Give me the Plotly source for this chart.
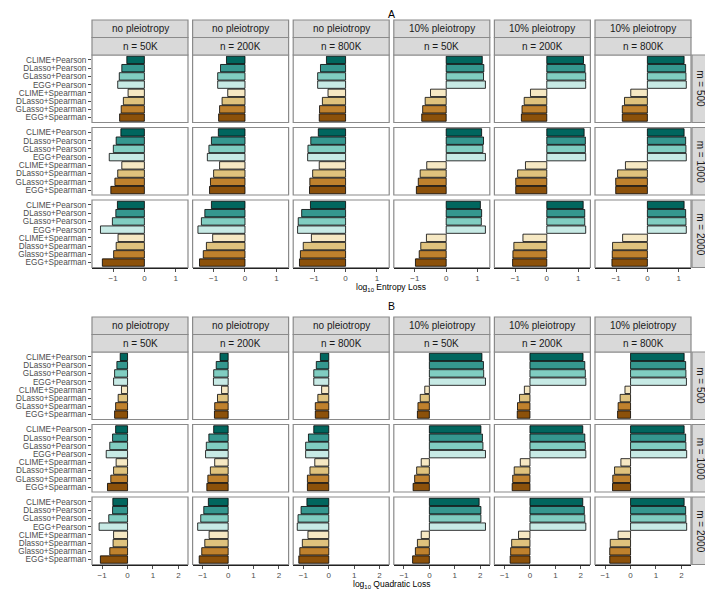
import plotly.graph_objects as go

# the page body adds an 8px margin, so the figure is drawn 8px in and 8px smaller
OFF = 8
W, H = 713 - OFF, 594 - OFF

methods = ["CLIME+Pearson", "DLasso+Pearson", "GLasso+Pearson", "EGG+Pearson",
           "CLIME+Spearman", "DLasso+Spearman", "GLasso+Spearman", "EGG+Spearman"]
# the m = 2000 row is labelled a bit differently in the original
methods_m2000 = ["CLIME+Pearson", "DLasso+Pearson", "GLasso+Pearson", "EGG+Pearson",
                 "CLIME+Spearman", "Dlasso+Spearman", "Glasso+Spearman", "EGG+Spearman"]
colors = ["#01665e", "#35978f", "#80cdc1", "#c7eae5",
          "#f6e8c3", "#dfc27d", "#bf812d", "#8c510a"]

col_pleio = ["no pleiotropy"] * 3 + ["10% pleiotropy"] * 3
col_n = ["n = 50K", "n = 200K", "n = 800K"] * 2
row_m = ["m = 500", "m = 1000", "m = 2000"]

# log10 entropy loss, one list of 8 per column
entropy_m500 = [
    [-0.56, -0.72, -0.80, -0.85, -0.52, -0.67, -0.74, -0.79],
    [-0.59, -0.78, -0.87, -0.87, -0.55, -0.73, -0.81, -0.84],
    [-0.61, -0.80, -0.89, -0.89, -0.56, -0.74, -0.83, -0.84],
    [1.15, 1.20, 1.19, 1.25, -0.50, -0.67, -0.75, -0.78],
    [1.17, 1.22, 1.24, 1.24, -0.52, -0.72, -0.79, -0.81],
    [1.17, 1.22, 1.23, 1.24, -0.53, -0.73, -0.80, -0.80],
]
entropy_m1000 = [
    [-0.75, -0.90, -0.99, -1.12, -0.72, -0.85, -0.94, -1.07],
    [-0.85, -1.07, -1.15, -1.20, -0.81, -1.00, -1.10, -1.13],
    [-0.87, -1.11, -1.20, -1.21, -0.84, -1.05, -1.14, -1.15],
    [1.13, 1.19, 1.17, 1.25, -0.62, -0.83, -0.89, -0.95],
    [1.19, 1.23, 1.23, 1.24, -0.68, -0.93, -0.99, -0.99],
    [1.17, 1.22, 1.23, 1.24, -0.70, -0.95, -1.01, -1.01],
]
entropy_m2000 = [
    [-0.86, -0.91, -1.02, -1.40, -0.84, -0.90, -0.98, -1.34],
    [-1.07, -1.28, -1.39, -1.50, -1.03, -1.23, -1.33, -1.45],
    [-1.12, -1.40, -1.51, -1.53, -1.09, -1.35, -1.44, -1.47],
    [1.09, 1.13, 1.12, 1.25, -0.63, -0.81, -0.86, -0.98],
    [1.16, 1.21, 1.21, 1.24, -0.76, -1.05, -1.08, -1.09],
    [1.17, 1.22, 1.23, 1.24, -0.79, -1.11, -1.12, -1.13],
]

# log10 quadratic loss
quad_m500 = [
    [-0.29, -0.42, -0.51, -0.55, -0.24, -0.37, -0.47, -0.51],
    [-0.32, -0.47, -0.57, -0.58, -0.26, -0.42, -0.53, -0.54],
    [-0.33, -0.49, -0.59, -0.59, -0.28, -0.43, -0.53, -0.53],
    [2.07, 2.13, 2.14, 2.21, -0.18, -0.36, -0.45, -0.47],
    [2.09, 2.16, 2.18, 2.20, -0.22, -0.41, -0.49, -0.50],
    [2.11, 2.17, 2.18, 2.20, -0.22, -0.41, -0.49, -0.51],
]
quad_m1000 = [
    [-0.47, -0.59, -0.70, -0.84, -0.45, -0.55, -0.66, -0.79],
    [-0.57, -0.76, -0.86, -0.89, -0.53, -0.70, -0.80, -0.84],
    [-0.59, -0.80, -0.91, -0.91, -0.55, -0.74, -0.84, -0.84],
    [2.03, 2.09, 2.11, 2.21, -0.32, -0.50, -0.58, -0.64],
    [2.08, 2.16, 2.18, 2.20, -0.38, -0.62, -0.68, -0.70],
    [2.11, 2.17, 2.18, 2.21, -0.38, -0.63, -0.70, -0.71],
]
quad_m2000 = [
    [-0.58, -0.59, -0.74, -1.12, -0.55, -0.57, -0.70, -1.07],
    [-0.78, -0.96, -1.08, -1.20, -0.75, -0.92, -1.04, -1.14],
    [-0.86, -1.09, -1.21, -1.24, -0.82, -1.04, -1.14, -1.18],
    [1.96, 2.03, 2.03, 2.21, -0.32, -0.47, -0.55, -0.66],
    [2.08, 2.14, 2.16, 2.20, -0.45, -0.72, -0.76, -0.78],
    [2.11, 2.17, 2.18, 2.21, -0.49, -0.80, -0.82, -0.82],
]

panels = [
    dict(tag="A", title="log<sub>10</sub> Entropy Loss", rows=[entropy_m500, entropy_m1000, entropy_m2000],
         xr=[-1.67, 1.39], ticks=[-1, 0, 1], top=20),
    dict(tag="B", title="log<sub>10</sub> Quadratic Loss", rows=[quad_m500, quad_m1000, quad_m2000],
         xr=[-1.40, 2.38], ticks=[-1, 0, 1, 2], top=317),
]

BORDER = "#8a8a8a"
STRIP = "#d9d9d9"
TXT = "#4d4d4d"
FONT = "Liberation Sans, Arial, sans-serif"


def fx(p):
    return (p - OFF) / W


def fy(p):
    return 1 - (p - OFF) / H


def label(x, y, text, size, color="#1a1a1a", angle=0):
    return dict(x=fx(x), y=fy(y), xref="paper", yref="paper", text=text,
                showarrow=False, xanchor="center", yanchor="middle", textangle=angle,
                font=dict(size=size, color=color, family=FONT))


col_left = [92 + 100.6 * i for i in range(6)]
col_w = 96
strip_h = 17.5
row_h = 67.5
row_step = 72.5

fig = go.Figure()
shapes = []
annots = []
layout = {}

for p, pan in enumerate(panels):
    top = pan["top"]
    row_top0 = top + 2 * strip_h
    for r in range(3):
        y_top = row_top0 + r * row_step
        y_bot = y_top + row_h
        labels = methods_m2000 if r == 2 else methods
        for c in range(6):
            k = p * 18 + r * 6 + c + 1
            sfx = "" if k == 1 else str(k)
            vals = pan["rows"][r][c]
            fig.add_trace(go.Bar(
                x=vals, y=labels, orientation="h",
                marker=dict(color=colors, line=dict(color="black", width=0.8)),
                xaxis="x" + sfx, yaxis="y" + sfx, showlegend=False,
                hovertemplate="%{y}: %{x}<extra></extra>",
            ))
            xl = col_left[c]
            bottom = r == 2
            layout["xaxis" + sfx] = dict(
                domain=[fx(xl), fx(xl + col_w)], anchor="y" + sfx, range=pan["xr"],
                tickvals=pan["ticks"], showticklabels=bottom,
                ticks="outside" if bottom else "", ticklen=3, tickcolor=TXT,
                tickfont=dict(size=8, color=TXT, family=FONT),
                showgrid=False, zeroline=False, automargin=False,
                showline=bottom, linecolor="#222222", linewidth=1,
            )
            layout["yaxis" + sfx] = dict(
                domain=[fy(y_bot), fy(y_top)], anchor="x" + sfx, type="category",
                categoryarray=labels, range=[7.6, -0.6],
                tickmode="array", tickvals=labels, ticktext=labels,
                showticklabels=(c == 0), ticks="outside" if c == 0 else "",
                ticklen=3, tickcolor=TXT, automargin=False,
                tickfont=dict(size=8.2, color=TXT, family=FONT),
                showgrid=False, zeroline=False, showline=False,
            )
            shapes.append(dict(type="rect", xref="x" + sfx + " domain", yref="y" + sfx + " domain",
                               x0=0, x1=1, y0=0, y1=1, line=dict(color=BORDER, width=1.2),
                               layer="above"))
            if r == 0:
                for s, txt in enumerate([col_pleio[c], col_n[c]]):
                    st = top + s * strip_h
                    shapes.append(dict(type="rect", xref="paper", yref="paper",
                                       x0=fx(xl), x1=fx(xl + col_w), y0=fy(st + strip_h), y1=fy(st),
                                       fillcolor=STRIP, line=dict(color=BORDER, width=1.2)))
                    annots.append(label(xl + col_w / 2, st + strip_h / 2, txt, 10))
        # right strip
        shapes.append(dict(type="rect", xref="paper", yref="paper",
                           x0=fx(692), x1=fx(708), y0=fy(y_bot), y1=fy(y_top),
                           fillcolor=STRIP, line=dict(color=BORDER, width=1.2)))
        annots.append(label(700.5, (y_top + y_bot) / 2, row_m[r], 10, angle=90))
    bot = row_top0 + 2 * row_step + row_h
    annots.append(label(391, bot + 20, pan["title"], 8.5, color="black"))
    annots.append(label(391, max(top - 11, 14), pan["tag"], 10.5, color="black"))

fig.update_layout(
    width=W, height=H, autosize=False,
    margin=dict(l=0, r=0, t=0, b=0),
    paper_bgcolor="white", plot_bgcolor="white",
    bargap=0.1, shapes=shapes, annotations=annots,
    font=dict(family=FONT),
    **layout,
)

fig.write_html("out.html")
